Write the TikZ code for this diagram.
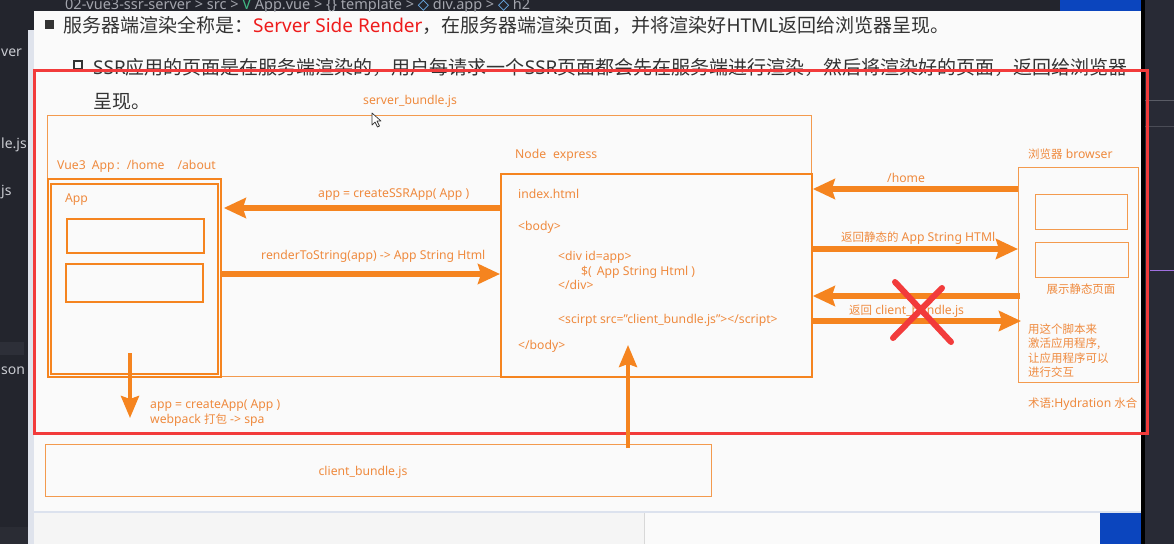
\documentclass[tikz,border=0pt]{standalone}
\usepackage{fontspec}
\setmainfont{Noto Sans}
\newfontfamily\cjk{Noto Sans CJK SC}
\newfontfamily\cjks[Scale=0.94]{Noto Sans CJK SC}
\newfontfamily\dejavu{DejaVu Sans}
\usetikzlibrary{arrows.meta}
\definecolor{org}{HTML}{F5841F}
\definecolor{orgl}{HTML}{F39A4E}
\definecolor{orgt}{HTML}{EF8A3E}
\definecolor{redx}{HTML}{F23B3B}
\definecolor{redt}{HTML}{EE1C1C}
\definecolor{ide}{HTML}{23252D}
\definecolor{ider}{HTML}{282A35}
\definecolor{slide}{HTML}{FAFAFA}
\definecolor{slidebot}{HTML}{F5F5F5}
\definecolor{vsblue}{HTML}{0B45BE}
\definecolor{txt}{HTML}{333333}
\definecolor{crumb}{HTML}{A3A5AD}
\definecolor{sidetxt}{HTML}{C9CBD1}
\definecolor{strip}{HTML}{DFE3EC}
\definecolor{shadowc}{HTML}{DCE2EE}
\definecolor{sepc}{HTML}{D8D8D8}
\definecolor{selc}{HTML}{2D2F38}
\definecolor{botc}{HTML}{2A2C34}
\definecolor{linea}{HTML}{5A5C66}
\definecolor{lineb}{HTML}{4A4C56}
\definecolor{purp}{HTML}{A070E0}
\definecolor{vuegreen}{HTML}{41B883}
\definecolor{iconblue}{HTML}{75BEFF}
\begin{document}
\begin{tikzpicture}[x=1pt,y=-1pt,
  lbl/.style={anchor=base west, inner sep=0pt, text=orgt, font=\fontsize{12.2}{14}\selectfont},
  head/.style={anchor=base west, inner sep=0pt, text=txt, font=\fontsize{19}{22}\selectfont},
  box/.style={draw=org, line width=1.8pt, anchor=north west, inner sep=0pt},
  thinbox/.style={draw=orgl, line width=1.4pt, anchor=north west, inner sep=0pt},
  bigarrow/.style={draw=org, line width=5.5pt, -{Stealth[length=22pt,width=20pt,inset=3pt]}},
  vertarrow/.style={draw=org, line width=4pt, -{Stealth[length=22pt,width=18pt,inset=3pt]}},
  side/.style={anchor=base west, inner sep=0pt, text=sidetxt, font=\fontsize{14}{16}\selectfont},
  xline/.style={draw=redx, line width=6pt, line cap=round}]
\useasboundingbox (0,0) rectangle (1174,544);
% ---------- backgrounds ----------
\fill[ide] (0,0) rectangle (1174,544);
\fill[ider] (1145,0) rectangle (1174,544);
\fill[black] (1141,0) rectangle (1145,544);
\fill[vsblue] (1060,0) rectangle (1141,11);
\fill[strip] (28,30) rectangle (34,544);
\fill[slide] (34,11) rectangle (1141,511);
\fill[shadowc] (34,511) rectangle (1141,513);
\fill[slidebot] (34,513) rectangle (644,544);
\fill[sepc] (644,513) rectangle (645,544);
\fill[slide] (645,513) rectangle (1100,544);
\fill[vsblue] (1100,513) rectangle (1141,544);
\fill[selc] (0,342) rectangle (24,355);
\fill[botc] (0,527) rectangle (28,544);
\draw[linea, line width=1pt] (1145,100) -- (1174,100);
\draw[lineb, line width=1pt] (1145,126) -- (1174,126);
\draw[purp, line width=1pt] (1150,270) -- (1174,270);
% side panel texts
\node[side] (s1) at (1,56) {ver};
\node[side] (s2) at (1,148) {le.js};
\node[side] (s3) at (1,195) {js};
\node[side] (s4) at (1,374) {son};
% breadcrumb
\begin{scope}
\clip (28,0) rectangle (1060,11);
\node[anchor=base west, inner sep=0pt, text=crumb, font=\fontsize{14.5}{16}\selectfont] (crumb) at (65,9)
  {02-vue3-ssr-server > src > \textcolor{vuegreen}{V} App.vue > \{\} template > \textcolor{iconblue}{\dejavu ◇} div.app > \textcolor{iconblue}{\dejavu ◇} h2};
\end{scope}
% ---------- heading ----------
\fill[txt] (45,20) rectangle (54,29);
\draw[txt, line width=1.8pt] (74,61) rectangle (82,69);
\node[head] (h1) at (63,32) {{\cjk 服务器端渲染全称是：}\textcolor{redt}{Server Side Render}{\cjk ，在服务器端渲染页面，并将渲染好}HTML{\cjk 返回给浏览器呈现。}};
\node[head] (h2) at (93,74) {SSR{\cjk 应用的页面是在服务端渲染的，用户每请求一个}SSR{\cjk 页面都会先在服务端进行渲染，然后将渲染好的页面，返回给浏览器}};
\node[head] (h3) at (93,108) {\cjk 呈现。};
% ---------- red frame ----------
\draw[redx, line width=3pt] (34,70) rectangle (1147,433);
% ---------- server side ----------
\node[lbl] (sbj) at (363,104) {server\_bundle.js};
\node[thinbox, minimum width=764pt, minimum height=261pt] (server) at (47,115) {};
\node[box, minimum width=173pt, minimum height=198pt] (vue) at (47,178) {};
\node[box, minimum width=167pt, minimum height=190pt] (appb) at (50,183) {};
\node[box, minimum width=137pt, minimum height=34pt] (in1) at (66,218) {};
\node[box, minimum width=137pt, minimum height=38pt] (in2) at (65,263) {};
\node[lbl] (vuel) at (57,169) {Vue3\hspace{6pt}App\hspace{2pt}:\hspace{7pt}/home\hspace{13pt}/about};
\node[lbl] (appl) at (65,202) {App};
\node[box, minimum width=311pt, minimum height=203pt] (nodebox) at (500,173) {};
\node[lbl] (nodel) at (515,158) {Node\hspace{7pt}express};
\node[lbl] (t1) at (518,198) {index.html};
\node[lbl] (t2) at (518,230) {<body>};
\node[lbl] (t3) at (558,260) {<div id=app>};
\node[lbl] (t4) at (581,275) {\$(\hspace{5pt}App String Html )};
\node[lbl] (t5) at (558,289) {</div>};
\node[lbl] (t6) at (558,323) {<scirpt src="client\_bundle.js"></script>};
\node[lbl] (t7) at (518,349) {</body>};
% client bundle
\node[thinbox, minimum width=666pt, minimum height=52pt] (client) at (45,444) {};
\node[lbl, anchor=base] (cbl) at (363,475) {client\_bundle.js};
% ---------- browser ----------
\node[thinbox, minimum width=120pt, minimum height=215pt] (browser) at (1018,167) {};
\node[thinbox, minimum width=92pt, minimum height=35pt] (b1) at (1035,194) {};
\node[thinbox, minimum width=93pt, minimum height=35pt] (b2) at (1035,242) {};
\node[lbl] (brl) at (1028,158) {{\cjks 浏览器} browser};
\node[lbl, anchor=base] (show) at (1081,293) {\cjks 展示静态页面};
\node[lbl] (u1) at (1028,333) {\cjks 用这个脚本来};
\node[lbl] (u2) at (1028,347) {\cjks 激活应用程序,};
\node[lbl] (u3) at (1028,362) {\cjks 让应用程序可以};
\node[lbl] (u4) at (1028,376) {\cjks 进行交互};
\node[lbl] (term) at (1028,407) {{\cjks 术语}:Hydration {\cjks 水合}};
% ---------- connectors ----------
\coordinate (ya) at (0,208);
\coordinate (yb) at (0,274);
\coordinate (yc) at (0,189);
\coordinate (yd) at (0,249);
\coordinate (ye) at (0,296);
\coordinate (yf) at (0,321);
\coordinate (dstart) at (130,353);
\coordinate (dend) at (130,418);
\coordinate (ustart) at (628,448);
\coordinate (uend) at (628,345);
\draw[bigarrow] (nodebox.west |- ya) -- ([xshift=2pt]vue.east |- ya);
\draw[bigarrow] (vue.east |- yb) -- (nodebox.west |- yb);
\draw[bigarrow] (browser.west |- yc) -- (nodebox.east |- yc);
\draw[bigarrow] (nodebox.east |- yd) -- (browser.west |- yd);
\draw[bigarrow] ([xshift=2pt]browser.west |- ye) -- (nodebox.east |- ye);
\draw[bigarrow] ([xshift=-2pt]nodebox.east |- yf) -- ([xshift=3pt]browser.west |- yf);
\draw[vertarrow] (dstart) -- (dend);
\draw[vertarrow] (ustart) -- (uend);
% connector labels
\node[lbl] (la) at (318,197) {app = createSSRApp( App )};
\node[lbl] (lb) at (261,259) {renderToString(app) -> App String Html};
\node[lbl] (lc) at (150,408) {app = createApp( App )};
\node[lbl] (ld) at (150,423) {webpack {\cjks 打包} -> spa};
\node[lbl] (le) at (887,182) {/home};
\node[lbl] (lf) at (841,241) {{\cjks 返回静态的} App String HTMl};
\node[lbl] (lg) at (849,314) {{\cjks 返回} client\_bundle.js};
% red cross
\draw[xline] (895,282) -- (951,342);
\draw[xline] (942,288) -- (893,338);
% mouse cursor
\draw[fill=white, draw=black!80, line width=0.7pt, line join=round]
  (372,113) -- (372,125) -- (375,122) -- (377.5,127) -- (379.5,126) -- (377,121) -- (381,121) -- cycle;
\end{tikzpicture}
\end{document}
